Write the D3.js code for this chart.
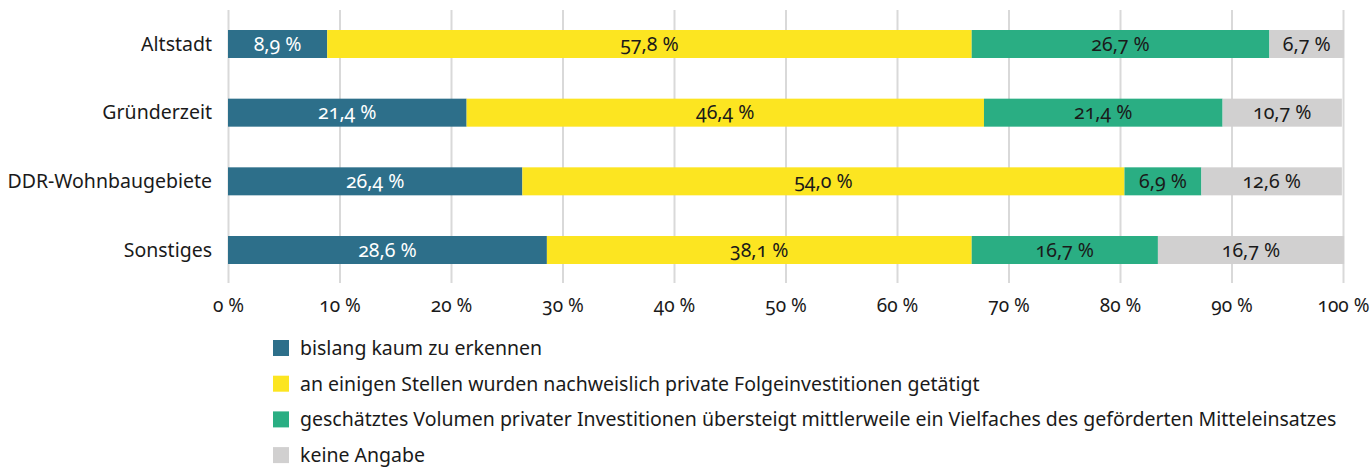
<!DOCTYPE html>
<html>
<head>
<meta charset="utf-8">
<script src="https://cdn.jsdelivr.net/npm/d3@7"></script>
<style>
  body { margin: 0; background: #fff; }
  svg text { font-family: "Noto Sans", "Open Sans", sans-serif; font-variant-numeric: oldstyle-nums; }
</style>
</head>
<body>
<script>
'use strict';

// categories (top to bottom)
const categories = ["Altstadt", "Gründerzeit", "DDR-Wohnbaugebiete", "Sonstiges"];
// series values in percent, one entry per category
const kaum = [8.9, 21.4, 26.4, 28.6];
const einige = [57.8, 46.4, 54.0, 38.1];
const vielfaches = [26.7, 21.4, 6.9, 16.7];
const keine = [6.7, 10.7, 12.6, 16.7];
const seriesNames = [
  "bislang kaum zu erkennen",
  "an einigen Stellen wurden nachweislich private Folgeinvestitionen getätigt",
  "geschätztes Volumen privater Investitionen übersteigt mittlerweile ein Vielfaches des geförderten Mitteleinsatzes",
  "keine Angabe"
];
const tickValues = [0, 10, 20, 30, 40, 50, 60, 70, 80, 90, 100];

const colors = ["#2d6f8a", "#fce521", "#2aae83", "#d1d0d0"];
const labelColors = ["#ffffff", "#1a1a1a", "#1a1a1a", "#1a1a1a"];

const width = 1372, height = 467;
const svg = d3.select("body").append("svg")
  .attr("width", width)
  .attr("height", height);

// scales
const x = d3.scaleLinear().domain([0, 100]).range([228, 1343]);
const y = d3.scalePoint().domain(categories).range([44, 250]);
const barH = 28;

// gridlines + axis
const axis = d3.axisBottom(x)
  .tickValues(tickValues)
  .tickSize(-273)
  .tickPadding(16)
  .tickFormat(d => d + " %");
const gAxis = svg.append("g")
  .attr("transform", "translate(0,283)")
  .call(axis);
gAxis.select(".domain").remove();
gAxis.selectAll("line").attr("stroke", "#d9d9d9").attr("stroke-width", 2);
gAxis.selectAll("text")
  .attr("fill", "#1a1a1a")
  .style("font-size", "19px");

// stacked data
const rows = categories.map((c, i) => ({
  cat: c,
  vals: [kaum[i], einige[i], vielfaches[i], keine[i]]
}));

rows.forEach(row => {
  let start = 0;
  row.vals.forEach((v, k) => {
    const x0 = x(start), x1 = x(start + v);
    svg.append("rect")
      .attr("x", x0)
      .attr("y", y(row.cat) - barH / 2)
      .attr("width", x1 - x0)
      .attr("height", barH)
      .attr("fill", colors[k]);
    svg.append("text")
      .attr("x", (x0 + x1) / 2)
      .attr("y", y(row.cat))
      .attr("dy", "0.35em")
      .attr("text-anchor", "middle")
      .attr("fill", labelColors[k])
      .style("font-size", "19.5px")
      .text(v.toFixed(1).replace(".", ",") + " %");
    start += v;
  });

  // category label
  svg.append("text")
    .attr("x", 212)
    .attr("y", y(row.cat))
    .attr("dy", "0.35em")
    .attr("text-anchor", "end")
    .attr("fill", "#1a1a1a")
    .style("font-size", "19.5px")
    .text(row.cat);
});

// legend
const legend = svg.append("g");
seriesNames.forEach((name, k) => {
  const ly = 348 + k * 35.7;
  legend.append("rect")
    .attr("x", 273)
    .attr("y", ly - 8)
    .attr("width", 16)
    .attr("height", 16)
    .attr("fill", colors[k]);
  legend.append("text")
    .attr("x", 300)
    .attr("y", ly)
    .attr("dy", "0.35em")
    .attr("fill", "#1a1a1a")
    .style("font-size", "19.5px")
    .text(name);
});
</script>
</body>
</html>
